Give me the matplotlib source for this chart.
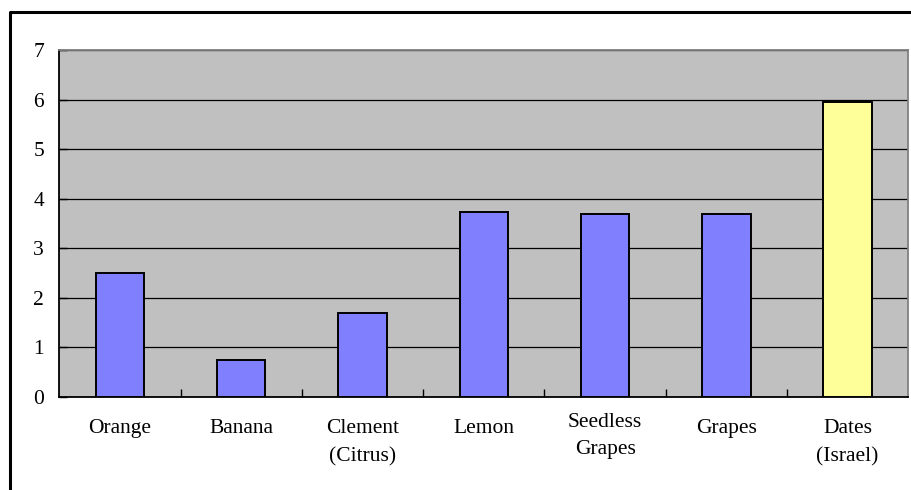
import matplotlib.pyplot as plt
from matplotlib.lines import Line2D
import numpy as np

fruits = ["Orange", "Banana", "Clement\n(Citrus)", "Lemon", "Seedless\nGrapes", "Grapes", "Dates\n(Israel)"]
values = [2.50, 0.74, 1.69, 3.72, 3.68, 3.68, 5.95]
bar_colors = ["#8080FF"] * 6 + ["#FFFF99"]
label_drop = [0.065, 0.065, 0.065, 0.065, 0.046, 0.065, 0.065]

plt.rcParams['font.family'] = ['Liberation Serif', 'DejaVu Serif']

fig = plt.figure(figsize=(9.11, 4.9), dpi=100)
ax = fig.add_axes([59.3 / 911, 1 - 396.7 / 490, (908.3 - 59.3) / 911, (396.7 - 50) / 490])
ax.set_facecolor("#C0C0C0")

x = np.arange(len(fruits))
ax.bar(x, values, width=0.4, color=bar_colors, edgecolor="black", linewidth=1.4, zorder=3)

ax.set_xlim(-0.5, len(fruits) - 0.5)
ax.set_ylim(0, 7)
ax.set_yticks(range(8))
ax.yaxis.grid(True, color="black", linewidth=0.9, zorder=1)
ax.set_axisbelow(True)

# category boundaries get the small inward tick marks
ax.set_xticks(np.arange(0.5, len(fruits) - 0.5, 1.0))
ax.set_xticklabels([])
ax.tick_params(axis="x", direction="in", length=6, width=1, color="black")
ax.tick_params(axis="y", direction="in", length=6, width=1, pad=11, labelsize=15.5)

for i, (name, drop) in enumerate(zip(fruits, label_drop)):
    ax.text(i, -drop, name, transform=ax.get_xaxis_transform(), ha="center", va="top",
            fontsize=15.5, linespacing=1.6)

for side in ("left", "bottom"):
    ax.spines[side].set_color("black")
    ax.spines[side].set_linewidth(1.3)
for side in ("top", "right"):
    ax.spines[side].set_color("#808080")
    ax.spines[side].set_linewidth(1.3)

# frame around the chart (runs off the right and bottom edges)
fy = 1 - 12 / 490
fx = 9.5 / 911
fig.add_artist(Line2D([fx, fx, 1.0], [0.0, fy, fy], color="black", linewidth=2.2,
                      transform=fig.transFigure))

fig.savefig("out.png", dpi=100)
